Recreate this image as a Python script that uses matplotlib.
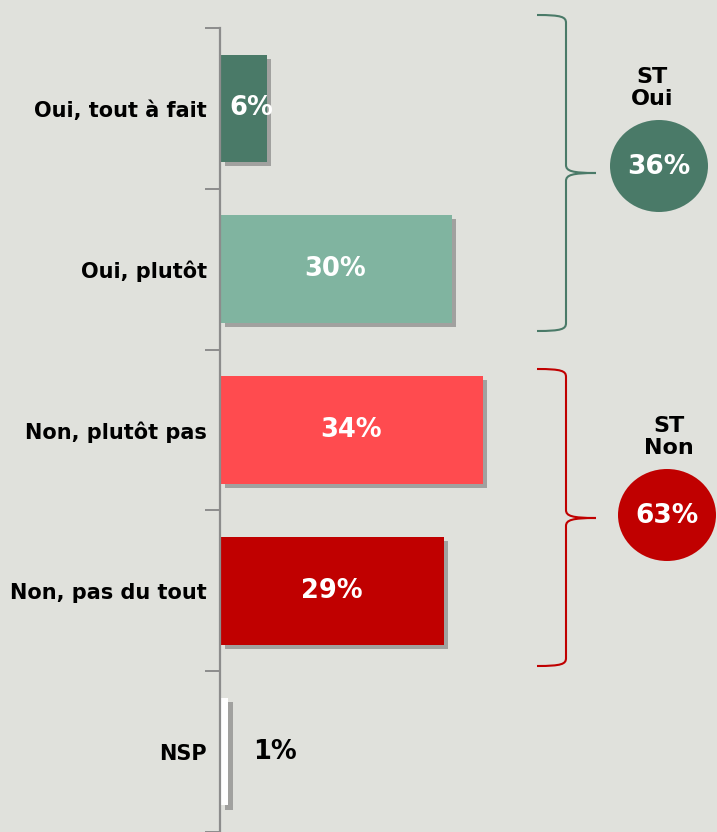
import matplotlib.pyplot as plt
import matplotlib.patheffects as pe
from matplotlib.path import Path
from matplotlib.patches import PathPatch, Ellipse

# data
categories = ['Oui, tout à fait', 'Oui, plutôt', 'Non, plutôt pas', 'Non, pas du tout', 'NSP']
values = [6, 30, 34, 29, 1]
colors = ['#4a7a68', '#80b4a0', '#ff4b4f', '#c00000', '#ffffff']
group_labels = ['ST\nOui', 'ST\nNon']
group_values = [36, 63]
group_colors = ['#4a7a68', '#c00000']

bg = '#e0e1dc'
W, H = 717, 832
fig = plt.figure(figsize=(W / 100, H / 100), dpi=100, facecolor=bg)

# main bar axes: axis line at x=220, cells of 161 px starting at y=28
ax = fig.add_axes([220 / W, 0, 480 / W, 804 / H])
ax.set_facecolor('none')
ax.set_xlim(0, 480 / 7.7)
ax.set_ylim(len(categories) - 0.5, -0.5)

shadow = [pe.SimplePatchShadow(offset=(3, -3), shadow_rgbFace='#6e6e6e', alpha=0.55),
          pe.Normal()]
pos = list(range(len(categories)))
bars = ax.barh(pos, values, height=0.67, color=colors, left=0.1)
for b in bars:
    b.set_path_effects(shadow)

for i, v in enumerate(values):
    if v < 3:
        ax.text(7.1, i, f'{v}%', ha='center', va='center', color='black',
                fontsize=18.5, fontweight='bold')
    else:
        ax.text(max(v / 2, 4.1), i, f'{v}%', ha='center', va='center', color='white',
                fontsize=18.5, fontweight='bold')

for s in ['top', 'right', 'bottom']:
    ax.spines[s].set_visible(False)
ax.spines['left'].set_color('#8c8c8c')
ax.spines['left'].set_linewidth(1.6)
ax.set_xticks([])
ax.set_yticks([p - 0.5 for p in pos] + [len(pos) - 0.5])
ax.set_yticklabels([])
ax.tick_params(axis='y', which='major', length=10.8, width=1.4, color='#8c8c8c')
ax.set_yticks(pos, minor=True)
ax.set_yticklabels(categories, minor=True, fontsize=15, fontweight='bold')
ax.tick_params(axis='y', which='minor', length=0, pad=9.5)

# overlay in pixel coordinates for braces and totals
ov = fig.add_axes([0, 0, 1, 1])
ov.set_xlim(0, W)
ov.set_ylim(H, 0)
ov.axis('off')
ov.patch.set_alpha(0)


def brace(y0, y1, ym, color):
    xl, xv, xt = 537, 566, 596
    verts = [(xl, y0), (xv - 4, y0), (xv, y0 + 2), (xv, y0 + 8),
             (xv, ym - 8),
             (xv, ym - 2), (xv + 6, ym), (xt, ym),
             (xv + 6, ym), (xv, ym + 2), (xv, ym + 8),
             (xv, y1 - 8),
             (xv, y1 - 2), (xv - 4, y1), (xl, y1)]
    codes = [Path.MOVETO, Path.CURVE4, Path.CURVE4, Path.CURVE4,
             Path.LINETO,
             Path.CURVE4, Path.CURVE4, Path.CURVE4,
             Path.CURVE4, Path.CURVE4, Path.CURVE4,
             Path.LINETO,
             Path.CURVE4, Path.CURVE4, Path.CURVE4]
    ov.add_patch(PathPatch(Path(verts, codes), fill=False, edgecolor=color, lw=1.5))


brace(15, 331, 173, group_colors[0])
brace(369, 666, 518, group_colors[1])

circle_pos = [(659, 166), (667, 515)]
title_pos = [(652, 88), (669, 437)]
for lab, val, col, (cx, cy), (tx, ty) in zip(group_labels, group_values, group_colors,
                                               circle_pos, title_pos):
    ov.add_patch(Ellipse((cx, cy), 98, 92, facecolor=col, edgecolor='none'))
    ov.text(cx, cy + 1, f'{val}%', ha='center', va='center', color='white',
            fontsize=19, fontweight='bold')
    ov.text(tx, ty, lab, ha='center', va='center', color='black', fontsize=16,
            fontweight='bold', linespacing=1.15)

fig.savefig('out.png', dpi=100, facecolor=bg)
